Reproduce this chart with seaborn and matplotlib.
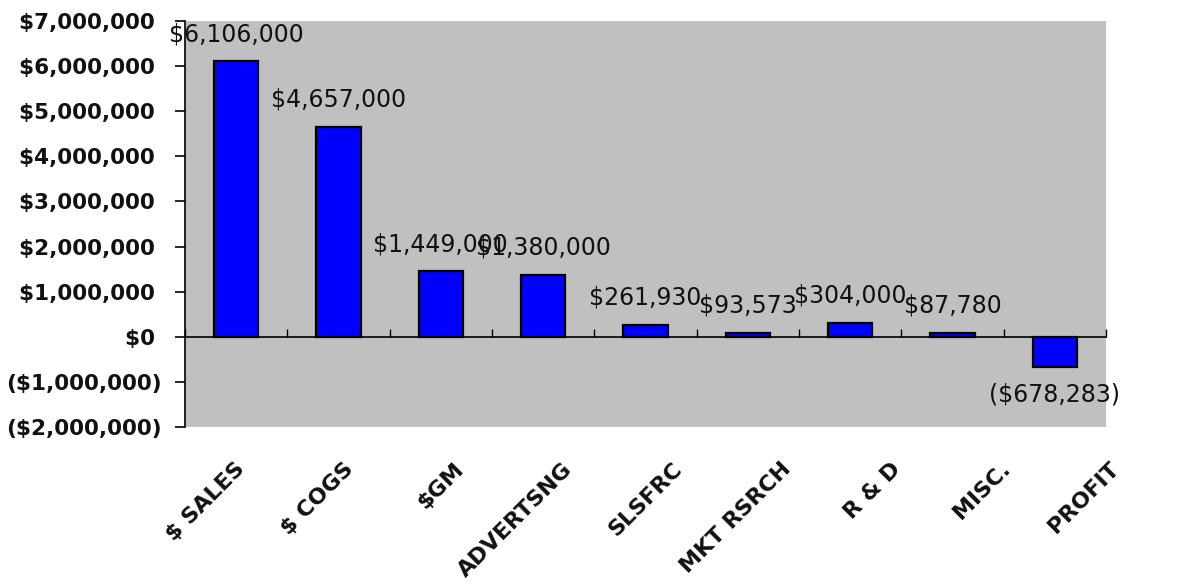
import matplotlib
matplotlib.use("Agg")
import matplotlib.pyplot as plt
import matplotlib.transforms as mtransforms
import seaborn as sns
import pandas as pd
from matplotlib.ticker import FuncFormatter, MultipleLocator

categories = ["$ SALES", "$ COGS", "$GM", "ADVERTSNG", "SLSFRC", "MKT RSRCH", "R & D", "MISC.", "PROFIT"]
values = [6106000, 4657000, 1449000, 1380000, 261930, 93573, 304000, 87780, -678283]

df = pd.DataFrame({"cat": categories, "val": values})

sns.set_theme(style="white")
plt.rcParams["font.family"] = ["DejaVu Sans"]

def money(v):
    if v < 0:
        return "(${:,.0f})".format(-v)
    return "${:,.0f}".format(v)

def axis_money(v, pos=None):
    # Excel style "$#,##0_);($#,##0)": positive numbers get trailing space
    if v < 0:
        return "(${:,.0f})".format(-v)
    return "${:,.0f} ".format(v)

fig = plt.figure(figsize=(11.92, 5.84), dpi=100)
ax = fig.add_axes([185/1192, 1 - 427/584, (1106 - 185)/1192, (427 - 21)/584])
ax.set_facecolor("#C0C0C0")

sns.barplot(data=df, x="cat", y="val", color="#0000FF", saturation=1,
            edgecolor="black", linewidth=1.6, width=0.43, ax=ax)

ax.set_ylim(-2000000, 7000000)
ax.set_xlim(-0.5, len(categories) - 0.5)
ax.yaxis.set_major_locator(MultipleLocator(1000000))
ax.yaxis.set_major_formatter(FuncFormatter(axis_money))
ax.set_xlabel("")
ax.set_ylabel("")

for s in ["top", "right", "bottom"]:
    ax.spines[s].set_visible(False)
ax.spines["left"].set_color("black")
ax.spines["left"].set_linewidth(1.2)

ax.tick_params(axis="y", which="major", direction="out", length=7, width=1.2,
               color="black", labelsize=15.5, pad=9.5, left=True)
for t in ax.get_yticklabels():
    t.set_fontweight("bold")
    t.set_color("#111111")

ax.tick_params(axis="x", length=0, pad=28)
ax.set_xticks(range(len(categories)))
ax.set_xticklabels(categories, rotation=45, ha="right", va="center",
                   rotation_mode="anchor", fontsize=16, fontweight="bold", color="#111111")
# category labels drift slightly wider than the bars in the original layout
for i, t in enumerate(ax.get_xticklabels()):
    shift = mtransforms.ScaledTranslation((5 + 7.07 * i) / 100, 0, fig.dpi_scale_trans)
    t.set_transform(t.get_transform() + shift)

# zero line with category boundary ticks
sec = ax.secondary_xaxis(0, transform=ax.transData)
sec.set_xticks([i + 0.5 for i in range(-1, len(categories))])
sec.set_xticklabels([])
sec.tick_params(direction="in", length=6, width=1, color="black")
sec.spines["bottom"].set_color("black")
sec.spines["bottom"].set_linewidth(1.2)

labels = [money(v) for v in values]
ax.bar_label(ax.containers[0], labels=labels, padding=11, fontsize=17, color="#111111")

fig.savefig("out.png", dpi=100)
